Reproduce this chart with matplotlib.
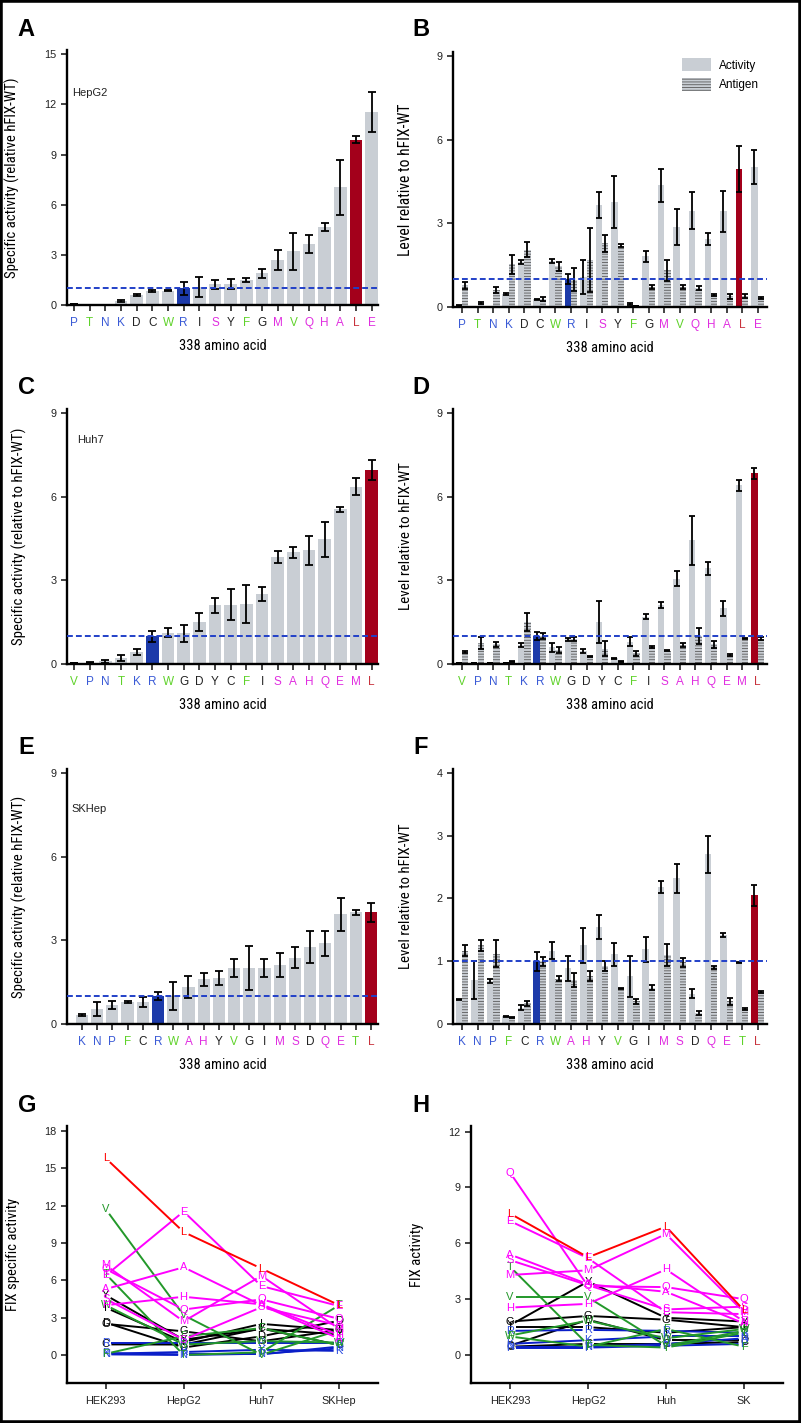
import matplotlib
matplotlib.use('Agg')
import matplotlib.pyplot as plt
from matplotlib import font_manager
from matplotlib.patches import Patch, Rectangle
import numpy as np

plt.rcParams['font.family'] = ['Liberation Sans', 'DejaVu Sans']
plt.rcParams['hatch.linewidth'] = 0.6

FIG_W, FIG_H = 801, 1423

# ============================================
# data
# ============================================
blue_aa = ['P', 'N', 'K', 'R']
green_aa = ['T', 'W', 'F', 'V']
black_aa = ['D', 'C', 'I', 'Y', 'G']
magenta_aa = ['S', 'M', 'Q', 'H', 'A', 'E']
red_aa = ['L']

# HepG2 (A, B)
hepg2_order = ['P', 'T', 'N', 'K', 'D', 'C', 'W', 'R', 'I', 'S', 'Y', 'F', 'G', 'M', 'V', 'Q', 'H', 'A', 'L', 'E']
hepg2_sa = [0.05, 0.0, 0.0, 0.24, 0.60, 0.84, 0.84, 1.00, 1.05, 1.23, 1.23, 1.50, 1.90, 2.70, 3.20, 3.65, 4.68, 7.05, 9.88, 11.53]
hepg2_sa_err = [0.02, 0.0, 0.0, 0.05, 0.06, 0.08, 0.03, 0.38, 0.60, 0.27, 0.30, 0.14, 0.27, 0.58, 1.10, 0.54, 0.25, 1.64, 0.20, 1.20]
hepg2_act = [0.04, 0.0, 0.0, 0.48, 1.61, 0.27, 1.64, 1.00, 1.08, 3.67, 3.76, 0.10, 1.82, 4.36, 2.87, 3.46, 2.44, 3.44, 4.96, 5.02]
hepg2_act_err = [0.02, 0.0, 0.0, 0.04, 0.08, 0.03, 0.07, 0.17, 0.60, 0.46, 0.94, 0.03, 0.20, 0.60, 0.63, 0.67, 0.22, 0.74, 0.82, 0.62]
hepg2_ag = [0.78, 0.14, 0.62, 1.53, 2.06, 0.28, 1.46, 0.98, 1.70, 2.29, 2.20, 0.04, 0.72, 1.31, 0.72, 0.68, 0.44, 0.38, 0.40, 0.32]
hepg2_ag_err = [0.12, 0.04, 0.10, 0.35, 0.27, 0.08, 0.17, 0.42, 1.15, 0.30, 0.06, 0.0, 0.08, 0.36, 0.08, 0.07, 0.03, 0.08, 0.08, 0.03]

# Huh7 (C, D)
huh7_order = ['V', 'P', 'N', 'T', 'K', 'R', 'W', 'G', 'D', 'Y', 'C', 'F', 'I', 'S', 'A', 'H', 'Q', 'E', 'M', 'L']
huh7_sa = [0.02, 0.05, 0.10, 0.22, 0.42, 1.00, 1.12, 1.10, 1.50, 2.10, 2.13, 2.16, 2.50, 3.84, 4.00, 4.07, 4.47, 5.54, 6.36, 6.95]
huh7_sa_err = [0.0, 0.02, 0.06, 0.12, 0.10, 0.20, 0.16, 0.30, 0.32, 0.28, 0.55, 0.68, 0.25, 0.22, 0.20, 0.52, 0.63, 0.10, 0.30, 0.37]
huh7_act = [0.04, 0.03, 0.04, 0.02, 0.68, 1.00, 0.60, 0.88, 0.47, 1.50, 0.20, 0.80, 1.70, 2.12, 3.06, 4.43, 3.43, 2.00, 6.40, 6.83]
huh7_act_err = [0.0, 0.0, 0.0, 0.0, 0.06, 0.15, 0.16, 0.06, 0.07, 0.76, 0.02, 0.17, 0.10, 0.12, 0.28, 0.88, 0.24, 0.27, 0.20, 0.20]
huh7_ag = [0.43, 0.75, 0.70, 0.08, 1.50, 1.00, 0.50, 0.90, 0.28, 0.55, 0.10, 0.38, 0.60, 0.48, 0.68, 1.00, 0.70, 0.33, 0.92, 0.90]
huh7_ag_err = [0.03, 0.20, 0.10, 0.02, 0.32, 0.12, 0.12, 0.08, 0.02, 0.27, 0.02, 0.10, 0.03, 0.02, 0.06, 0.30, 0.12, 0.03, 0.02, 0.05]

# SKHep (E, F)
skhep_order = ['K', 'N', 'P', 'F', 'C', 'R', 'W', 'A', 'H', 'Y', 'V', 'G', 'I', 'M', 'S', 'D', 'Q', 'E', 'T', 'L']
skhep_sa = [0.33, 0.53, 0.68, 0.78, 0.80, 1.00, 1.00, 1.32, 1.60, 1.65, 2.00, 2.00, 2.00, 2.10, 2.37, 2.75, 2.90, 3.93, 4.00, 4.00]
skhep_sa_err = [0.04, 0.25, 0.16, 0.04, 0.18, 0.14, 0.50, 0.40, 0.24, 0.25, 0.33, 0.78, 0.32, 0.43, 0.38, 0.57, 0.45, 0.59, 0.08, 0.35]
skhep_act = [0.39, 0.70, 0.69, 0.12, 0.26, 1.00, 1.17, 0.89, 1.25, 1.54, 1.11, 0.76, 1.19, 2.18, 2.32, 0.48, 2.70, 1.42, 0.98, 2.05]
skhep_act_err = [0.01, 0.30, 0.03, 0.01, 0.04, 0.15, 0.14, 0.20, 0.28, 0.19, 0.18, 0.33, 0.20, 0.10, 0.23, 0.07, 0.30, 0.03, 0.01, 0.17]
skhep_ag = [1.17, 1.25, 1.12, 0.10, 0.33, 1.00, 0.72, 0.70, 0.77, 0.93, 0.56, 0.36, 0.58, 1.10, 0.98, 0.18, 0.90, 0.36, 0.24, 0.51]
skhep_ag_err = [0.08, 0.08, 0.22, 0.01, 0.04, 0.07, 0.04, 0.11, 0.08, 0.08, 0.01, 0.04, 0.04, 0.17, 0.07, 0.03, 0.03, 0.06, 0.01, 0.02]

# HEK293 specific activity (G), in hepg2_order
hek293_sa = [0.15, 6.5, 0.05, 0.1, 2.6, 0.85, 4.0, 1.0, 3.8, 4.5, 4.8, 0.1, 2.5, 7.2, 11.7, 6.9, 4.0, 5.3, 15.8, 6.4]

# FIX activity (H), in hepg2_order
cell_lines_g = ['HEK293', 'HepG2', 'Huh7', 'SKHep']
cell_lines_h = ['HEK293', 'HepG2', 'Huh', 'SK']
fix_act_hek = [0.4, 4.75, 0.45, 0.6, 0.5, 0.45, 1.05, 1.3, 1.5, 5.1, 1.6, 1.0, 1.8, 4.3, 3.1, 9.8, 2.55, 5.4, 7.6, 7.2]
fix_act_hepg2 = [0.4, 0.55, 0.45, 0.8, 1.9, 0.6, 1.85, 1.35, 1.5, 3.75, 3.95, 0.45, 2.1, 4.55, 3.1, 3.7, 2.75, 3.8, 5.25, 5.2]
fix_act_huh = [0.5, 0.4, 0.6, 1.0, 0.8, 0.6, 0.9, 1.3, 1.2, 2.45, 2.0, 1.4, 1.9, 6.5, 0.5, 3.65, 4.6, 3.4, 6.9, 2.3]
fix_act_sk = [0.6, 1.2, 0.9, 1.0, 0.8, 0.7, 1.4, 1.2, 1.5, 2.6, 1.8, 0.45, 1.5, 2.3, 1.3, 3.0, 1.8, 1.7, 2.4, 2.2]

# ============================================
# styles
# ============================================
GREY = '#c9ced4'
HATCH_EDGE = '#5a5a5a'
HATCH = '------'
R_BLUE = '#1c3aa9'
L_RED = '#a3001b'
DASH_BLUE = '#2140c8'

label_colors = {'blue': '#3b5bd6', 'green': '#5fd22a', 'black': '#222222',
                'magenta': '#e02ee0', 'red': '#c8323c'}
line_colors = {'blue': '#0a1ec8', 'green': '#23982a', 'black': '#000000',
               'magenta': '#ff00ff', 'red': '#ff0000'}
text_colors = {'blue': '#2f4fe0', 'green': '#23982a', 'black': '#000000',
               'magenta': '#ff00ff', 'red': '#ff0000'}


def narrow_font():
    # 图中坐标轴标题是窄体字，找一个已安装的窄体，没有就用普通无衬线
    fonts = font_manager.fontManager.ttflist
    names = {f.name for f in fonts}
    for name in ['Liberation Sans Narrow', 'Roboto Condensed', 'Open Sans Condensed',
                 'Noto Sans Condensed', 'DejaVu Sans Condensed']:
        if name in names:
            return {'family': name}
    for f in fonts:
        if f.name in ('Noto Sans', 'Open Sans', 'Roboto', 'DejaVu Sans', 'Inter') and \
                str(f.stretch) in ('condensed', 'semi-condensed', 'extra-condensed'):
            return {'family': f.name, 'stretch': f.stretch}
    return {'family': 'Liberation Sans'}


NARROW = narrow_font()
TITLE_STRETCH = 1.2


def group_of(aa):
    for name, members in [('blue', blue_aa), ('green', green_aa), ('black', black_aa),
                          ('magenta', magenta_aa), ('red', red_aa)]:
        if aa in members:
            return name


def bar_color(aa):
    return {'R': R_BLUE, 'L': L_RED}.get(aa, GREY)


def px_axes(fig, left, top, right, bottom):
    return fig.add_axes([left / FIG_W, 1 - bottom / FIG_H,
                         (right - left) / FIG_W, (bottom - top) / FIG_H])


fit_labels = []   # (text artist, target length in px)


def axis_title(label_artist, text, target_px):
    label_artist.set_text(text)
    label_artist.set_fontfamily(NARROW['family'])
    if 'stretch' in NARROW:
        label_artist.set_fontstretch(NARROW['stretch'])
    label_artist.set_fontsize(10)
    fit_labels.append((label_artist, target_px * TITLE_STRETCH))


def style_axes(ax):
    for s in ['top', 'right']:
        ax.spines[s].set_visible(False)
    for s in ['left', 'bottom']:
        ax.spines[s].set_linewidth(1.7)
    ax.tick_params(axis='both', direction='out', length=4.5, width=1.2,
                   pad=3, labelsize=7.8, colors='#222222')


def aa_ticks(ax, order):
    x = np.arange(len(order))
    ax.set_xticks(x)
    ax.set_xticklabels(order, fontsize=8.5)
    ax.tick_params(axis='x', pad=4)
    for lab, aa in zip(ax.get_xticklabels(), order):
        lab.set_color(label_colors[group_of(aa)])
    axis_title(ax.xaxis.label, '338 amino acid', 73)
    ax.xaxis.set_label_coords(0.5, -0.135)


def single_bars(ax, order, vals, errs, ylim, yticks, xlim, ylabel, ylab_len, ylab_x, cell):
    x = np.arange(len(order))
    ax.bar(x, vals, width=0.8, color=[bar_color(a) for a in order], linewidth=0, zorder=2)
    ax.errorbar(x, vals, yerr=errs, fmt='none', ecolor='black', elinewidth=1.3,
                capsize=3, capthick=1.3, zorder=3)
    ax.axhline(1, color=DASH_BLUE, ls=(0, (3, 1.6)), lw=1.4, zorder=4)
    ax.set_xlim(*xlim)
    ax.set_ylim(*ylim)
    ax.set_yticks(yticks)
    style_axes(ax)
    aa_ticks(ax, order)
    axis_title(ax.yaxis.label, ylabel, ylab_len)
    ax.yaxis.set_label_coords(ylab_x, 0.5)
    ax.text(cell[1], cell[2], cell[0], transform=ax.transAxes, fontsize=8,
            ha='left', va='center', color='#222222')


def paired_bars(ax, order, act, act_err, ag, ag_err, ylim, yticks, xlim, ylab_len, ylab_x):
    x = np.arange(len(order))
    w = 0.41
    ax.bar(x - w / 2, act, width=w, color=[bar_color(a) for a in order], linewidth=0, zorder=2)
    ax.bar(x + w / 2, ag, width=w, color=GREY, edgecolor=HATCH_EDGE, hatch=HATCH,
           linewidth=0, zorder=2)
    ax.errorbar(x - w / 2, act, yerr=act_err, fmt='none', ecolor='black', elinewidth=1.3,
                capsize=2, capthick=1.3, zorder=3)
    ax.errorbar(x + w / 2, ag, yerr=ag_err, fmt='none', ecolor='black', elinewidth=1.3,
                capsize=2, capthick=1.3, zorder=3)
    ax.axhline(1, color=DASH_BLUE, ls=(0, (3, 1.6)), lw=1.4, zorder=4)
    ax.set_xlim(*xlim)
    ax.set_ylim(*ylim)
    ax.set_yticks(yticks)
    style_axes(ax)
    aa_ticks(ax, order)
    axis_title(ax.yaxis.label, 'Level relative to hFIX-WT', ylab_len)
    ax.yaxis.set_label_coords(ylab_x, 0.5)


def line_panel(ax, table, ylim, yticks, ylabel, ylab_len, ylab_x, xlabels):
    x = np.arange(1, 5)
    ax.set_xlim(0.5, 4.5)
    ax.set_ylim(*ylim)
    pos = ax.get_position()
    sx = pos.width * FIG_W / 4.0
    sy = pos.height * FIG_H / (ylim[1] - ylim[0])
    for grp in ['black', 'blue', 'green', 'magenta', 'red']:
        for aa in hepg2_order:
            if group_of(aa) != grp:
                continue
            ys = table[aa]
            for i in range(3):
                dy = ys[i + 1] - ys[i]
                seg = np.hypot(sx, dy * sy)
                g = 5.5 / seg
                ax.plot([x[i] + g, x[i + 1] - g], [ys[i] + g * dy, ys[i + 1] - g * dy],
                        color=line_colors[grp], lw=1.4, solid_capstyle='butt', zorder=2)
            for xi, yi in zip(x, ys):
                ax.text(xi, yi, aa, color=text_colors[grp], fontsize=8,
                        ha='center', va='center', zorder=3)
    ax.set_xticks(x)
    ax.set_xticklabels(xlabels, fontsize=8.5)
    ax.set_yticks(yticks)
    style_axes(ax)
    ax.tick_params(axis='x', pad=5)
    axis_title(ax.yaxis.label, ylabel, ylab_len)
    ax.yaxis.set_label_coords(ylab_x, 0.5)


# ============================================
# figure
# ============================================
fig = plt.figure(figsize=(FIG_W / 100, FIG_H / 100), dpi=100)

# A
axA = px_axes(fig, 67, 50, 378, 305)
single_bars(axA, hepg2_order, hepg2_sa, hepg2_sa_err, (0, 15.25), [0, 3, 6, 9, 12, 15],
            (-0.45, 19.4), 'Specific activity (relative hFIX-WT)', 165, -0.15,
            ('HepG2', 0.016, 0.83))

# B
axB = px_axes(fig, 453, 52, 767, 307)
paired_bars(axB, hepg2_order, hepg2_act, hepg2_act_err, hepg2_ag, hepg2_ag_err,
            (0, 9.15), [0, 3, 6, 9], (-0.58, 19.6), 126, -0.126)
legend_handles = [Patch(facecolor=GREY, linewidth=0, label='Activity'),
                  Patch(facecolor=GREY, edgecolor=HATCH_EDGE, hatch=HATCH, linewidth=0,
                        label='Antigen')]
axB.legend(handles=legend_handles, loc='upper left', bbox_to_anchor=(0.73, 0.975),
           frameon=False, fontsize=8.5, handlelength=2.4, handleheight=1.3,
           handletextpad=0.7, labelspacing=0.5, borderpad=0, borderaxespad=0)

# C
axC = px_axes(fig, 67, 409, 378, 664)
single_bars(axC, huh7_order, huh7_sa, huh7_sa_err, (0, 9.14), [0, 3, 6, 9],
            (-0.45, 19.4), 'Specific activity (relative to hFIX-WT)', 180, -0.13,
            ('Huh7', 0.032, 0.88))

# D
axD = px_axes(fig, 453, 409, 767, 664)
paired_bars(axD, huh7_order, huh7_act, huh7_act_err, huh7_ag, huh7_ag_err,
            (0, 9.14), [0, 3, 6, 9], (-0.58, 19.6), 122, -0.126)

# E
axE = px_axes(fig, 67, 769, 378, 1024)
single_bars(axE, skhep_order, skhep_sa, skhep_sa_err, (0, 9.14), [0, 3, 6, 9],
            (-0.98, 19.46), 'Specific activity (relative hFIX-WT)', 167, -0.13,
            ('SKHep', 0.016, 0.843))

# F
axF = px_axes(fig, 453, 769, 767, 1024)
paired_bars(axF, skhep_order, skhep_act, skhep_act_err, skhep_ag, skhep_ag_err,
            (0, 4.06), [0, 1, 2, 3, 4], (-0.58, 19.6), 120, -0.126)

# G
hepg2_sa_map = dict(zip(hepg2_order, hepg2_sa))
huh7_sa_map = dict(zip(huh7_order, huh7_sa))
skhep_sa_map = dict(zip(skhep_order, skhep_sa))
table_g = {aa: [hek293_sa[i], hepg2_sa_map[aa], huh7_sa_map[aa], skhep_sa_map[aa]]
           for i, aa in enumerate(hepg2_order)}
axG = px_axes(fig, 67, 1126, 378, 1383)
line_panel(axG, table_g, (-2.25, 18.4), [0, 3, 6, 9, 12, 15, 18], 'FIX specific activity',
           93, -0.15, cell_lines_g)

# H
table_h = {aa: [fix_act_hek[i], fix_act_hepg2[i], fix_act_huh[i], fix_act_sk[i]]
           for i, aa in enumerate(hepg2_order)}
axH = px_axes(fig, 471, 1126, 783, 1383)
line_panel(axH, table_h, (-1.5, 12.3), [0, 3, 6, 9, 12], 'FIX activity', 53, -0.15,
           cell_lines_h)

# panel letters
for letter, px, py in [('A', 26, 29), ('B', 421, 29), ('C', 26, 387), ('D', 421, 387),
                       ('E', 26, 747), ('F', 421, 747), ('G', 27, 1106), ('H', 421, 1106)]:
    fig.text(px / FIG_W, 1 - py / FIG_H, letter, fontsize=17, fontweight='bold',
             ha='center', va='center')

# outer frame
fig.add_artist(Rectangle((0, 0), 1, 1, transform=fig.transFigure, fill=False,
                         edgecolor='black', linewidth=4, zorder=10))

# 轴标题按原图长度缩放字号
fig.canvas.draw()
renderer = fig.canvas.get_renderer()
for artist, target in fit_labels:
    bb = artist.get_window_extent(renderer)
    length = max(bb.width, bb.height)
    if length > 0:
        artist.set_fontsize(min(11.5, artist.get_fontsize() * target / length))

fig.savefig('out.png', dpi=100, facecolor='white')
